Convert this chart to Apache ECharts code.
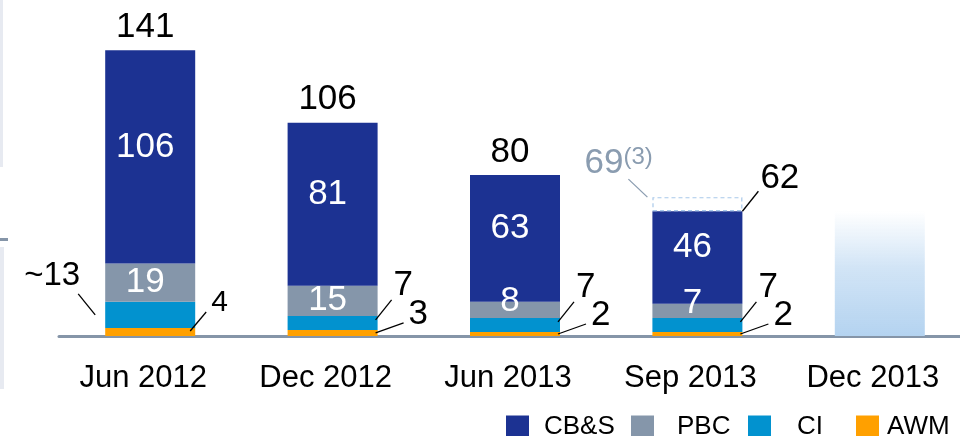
<!DOCTYPE html>
<html>
<head>
<meta charset="utf-8">
<script src="https://cdn.jsdelivr.net/npm/echarts@6/dist/echarts.min.js"></script>
<style>
  html, body { margin: 0; padding: 0; background: #fff; }
  #chart { width: 960px; height: 436px; }
</style>
</head>
<body>
<div id="chart"></div>
<script>
// data
const categories = ['Jun 2012', 'Dec 2012', 'Jun 2013', 'Sep 2013', 'Dec 2013']
const cbs = [106, 81, 63, 46, null]
const pbc = [19, 15, 8, 7, null]
const ci = [13, 7, 7, 7, null]
const awm = [4, 3, 2, 2, null]
const ciText = ['~13', '7', '7', '7', null]
const totals = [141, 106, 80, 62, null]
const adjustedTotals = [null, null, null, 69, null] // dashed box, footnote (3)
const adjustedNote = '(3)'
const outlook = [null, null, null, null, 62] // Dec 2013 placeholder column

const FONT = 'Liberation Sans, Arial, sans-serif'
const colors = { cbs: '#1c3292', pbc: '#8596aa', ci: '#0292cf', awm: '#ffa000' }

// callouts outside the bars: [category, y value of anchor], text and kind
const callouts = []
categories.forEach((c, i) => {
  if (awm[i] == null) return
  const first = i === 0
  callouts.push({ pos: [i, awm[i] / 2], text: String(awm[i]), kind: first ? 'steepSmall' : 'shallow' })
  callouts.push({ pos: [i, awm[i] + ci[i] / 2], text: ciText[i], kind: first ? 'left' : 'steep' })
  const stackTop = awm[i] + ci[i] + pbc[i] + cbs[i]
  if (adjustedTotals[i] != null) {
    callouts.push({ pos: [i, stackTop], text: String(totals[i]), kind: 'totalSide' })
    callouts.push({ pos: [i, adjustedTotals[i]], text: String(adjustedTotals[i]), kind: 'adjusted', note: adjustedNote })
  } else {
    callouts.push({ pos: [i, stackTop], text: String(totals[i]), kind: 'top' })
  }
})

// pixel placement of each callout kind, relative to the category centre
const calloutStyle = {
  steep: { ax: 43, ay: -3, dx: 16, dy: -20, tx: 2, ty: -15, size: 35, align: 'left', color: '#000' },
  totalSide: { ax: 45, ay: 0, dx: 16, dy: -20, tx: 2, ty: -13, size: 35, align: 'left', color: '#000' },
  steepSmall: { ax: 40, ay: -1, dx: 16, dy: -19, tx: 5, ty: -9, size: 30, align: 'left', color: '#000' },
  shallow: { ax: 43, ay: 0, dx: 28, dy: -10, tx: 5, ty: -9, size: 35, align: 'left', color: '#000' },
  left: { ax: -55, ay: 0, dx: -17, dy: -21, tx: 2, ty: -18, size: 33, align: 'right', color: '#000' },
  top: { ax: -5, ay: 0, ty: -23, size: 35, align: 'center', color: '#000' },
  adjusted: { ax: -50, ay: 0, dx: -19, dy: -18, tx: -5, ty: -16, size: 35, align: 'right', color: '#8a9cb0' },
}

const adjustedBox = adjustedTotals.map((v, i) => (v == null ? null : v - totals[i]))

const chart = echarts.init(document.getElementById('chart'))

function segLabel(offsetY) {
  return {
    show: true,
    position: 'inside',
    color: '#fff',
    fontSize: 35,
    fontFamily: FONT,
    offset: [-5, offsetY],
  }
}

const option = {
  animation: false,
  textStyle: { fontFamily: FONT },
  graphic: [
    { type: 'rect', shape: { x: 0, y: 0, width: 3, height: 167 }, style: { fill: '#e7eaf1' } },
    { type: 'rect', shape: { x: 0, y: 247, width: 4, height: 142 }, style: { fill: '#e7eaf1' } },
    { type: 'rect', shape: { x: 0, y: 238, width: 8, height: 3 }, style: { fill: '#8595a8' } },
  ],
  legend: [
    { name: 'CB&S', left: 501, pad: 10 },
    { name: 'PBC', left: 626, pad: 18 },
    { name: 'CI', left: 743, pad: 21 },
    { name: 'AWM', left: 851, pad: 3 },
  ].map((l) => ({
    data: [l.name],
    left: l.left,
    top: 409,
    icon: 'rect',
    itemWidth: 23,
    itemHeight: 23,
    selectedMode: false,
    textStyle: { fontSize: 26, color: '#000', fontFamily: FONT, padding: [0, 0, 0, l.pad] },
  })),
  grid: { left: 59, width: 912, top: 14, bottom: 100, outerBoundsMode: 'none', containLabel: false },
  xAxis: {
    type: 'category',
    data: categories,
    axisLine: { lineStyle: { color: '#8595a8', width: 3 } },
    axisTick: { show: false },
    axisLabel: { color: '#000', fontSize: 31, fontFamily: FONT, margin: 27, padding: [0, 14, 0, 0] },
  },
  yAxis: { type: 'value', min: 0, max: 160, show: false },
  series: [
    {
      name: 'AWM', type: 'bar', stack: 'a', barWidth: 90, data: awm,
      itemStyle: { color: colors.awm },
    },
    {
      name: 'CI', type: 'bar', stack: 'a', barWidth: 90, data: ci,
      itemStyle: { color: colors.ci },
    },
    {
      name: 'PBC', type: 'bar', stack: 'a', barWidth: 90,
      data: pbc.map((v) => ({ value: v, label: { offset: [-5, v != null && v < 10 ? -8 : 0] } })),
      itemStyle: { color: colors.pbc },
      label: segLabel(0),
    },
    {
      name: 'CB&S', type: 'bar', stack: 'a', barWidth: 90, data: cbs,
      itemStyle: { color: colors.cbs },
      label: segLabel(-10),
    },
    {
      name: 'adjusted', type: 'bar', stack: 'a', barWidth: 90, data: adjustedBox,
      itemStyle: { color: '#fff', borderColor: '#a9c9ea', borderWidth: 1.2, borderType: [4, 3] },
    },
    {
      name: 'outlook', type: 'bar', stack: 'a', barWidth: 90, data: outlook,
      itemStyle: {
        color: new echarts.graphic.LinearGradient(0, 0, 0, 1, [
          { offset: 0, color: 'rgba(180,211,240,0)' },
          { offset: 0.45, color: 'rgba(180,211,240,0.6)' },
          { offset: 1, color: 'rgba(180,211,240,1)' },
        ]),
      },
    },
    {
      name: 'callouts',
      type: 'custom',
      silent: true,
      clip: false,
      z: 10,
      data: callouts.map((c) => c.pos),
      encode: { x: 0, y: 1 },
      renderItem(params, api) {
        const c = callouts[params.dataIndex]
        const s = calloutStyle[c.kind]
        const p = api.coord([api.value(0), api.value(1)])
        const ax = p[0] + s.ax
        const ay = p[1] + s.ay
        const children = []
        let ex = ax
        let ey = ay
        if (s.dx != null) {
          ex = ax + s.dx
          ey = ay + s.dy
          children.push({
            type: 'line',
            shape: { x1: ax, y1: ay, x2: ex, y2: ey },
            style: { stroke: s.color, lineWidth: 1.3 },
          })
        }
        children.push({
          type: 'text',
          x: ex + (s.tx || 0),
          y: ey + s.ty,
          style: {
            text: c.text, fontSize: s.size, fontFamily: FONT, fill: s.color,
            align: s.align, verticalAlign: 'middle',
          },
        })
        if (c.note) {
          children.push({
            type: 'text',
            x: ex + (s.tx || 0),
            y: ey + s.ty - 6,
            style: {
              text: c.note, fontSize: 24, fontFamily: FONT, fill: s.color,
              align: 'left', verticalAlign: 'middle',
            },
          })
        }
        return { type: 'group', children }
      },
    },
  ],
}

chart.setOption(option)
</script>
</body>
</html>
